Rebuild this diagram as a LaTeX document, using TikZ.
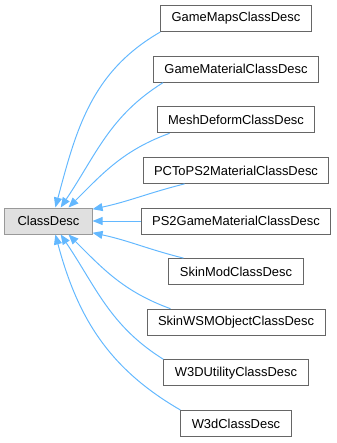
\documentclass[tikz,border=0pt]{standalone}
\usepackage{fontspec}
\setmainfont{Liberation Sans}
\usepackage{tikz}
\usetikzlibrary{arrows.meta,calc}

\definecolor{edgeblue}{HTML}{63B8FF}
\definecolor{boxgray}{HTML}{666666}
\definecolor{basegray}{HTML}{999999}
\definecolor{basefill}{HTML}{E0E0E0}

\begin{document}
\begin{tikzpicture}[x=0.025cm, y=0.025cm,
  cls/.style={draw=boxgray, line width=0.7pt, fill=white, minimum height=0.65cm,
              inner xsep=0.275cm, inner ysep=0pt, font=\fontsize{9.2}{11}\selectfont},
  base/.style={cls, draw=basegray, fill=basefill, minimum width=2.18cm},
  inh/.style={-{Triangle[length=0.25cm, width=0.2cm]}, draw=edgeblue, line width=0.7pt}
]
  \useasboundingbox (0,0) rectangle (337,443);

  \node[base] (cd)      at ( 48.5, 222.0) {ClassDesc};

  \node[cls]  (gmaps)   at (236, 424.4) {GameMapsClassDesc};
  \node[cls]  (gmat)    at (236, 373.8) {GameMaterialClassDesc};
  \node[cls]  (mesh)    at (236, 323.2) {MeshDeformClassDesc};
  \node[cls]  (pcps2)   at (236, 272.6) {PCToPS2MaterialClassDesc};
  \node[cls]  (ps2gmat) at (236, 222.0) {PS2GameMaterialClassDesc};
  \node[cls]  (skinmod) at (236, 171.4) {SkinModClassDesc};
  \node[cls]  (skinwsm) at (236, 120.8) {SkinWSMObjectClassDesc};
  \node[cls]  (w3dutil) at (236,  70.2) {W3DUtilityClassDesc};
  \node[cls]  (w3d)     at (236,  19.6) {W3dClassDesc};

  % derived classes point back to the base
  \draw[inh] (gmaps.south west)                 to[out=210, in=75]  (cd.63);
  \draw[inh] ($(gmat.south west)+(10,0)$)       to[out=212, in=56]  (cd.48);
  \draw[inh] ($(mesh.south west)+(13,0)$)       to[out=200, in=45]  (cd.34);
  \draw[inh] ($(pcps2.south west)+(42,0)$)      to[out=194, in=12]  (cd.15);
  \draw[inh] (ps2gmat.west)                     --                  (cd.east);
  \draw[inh] ($(skinmod.north west)+(15,0)$)    to[out=166, in=-12] (cd.-15);
  \draw[inh] ($(skinwsm.north west)+(24,0)$)    to[out=160, in=-45] (cd.-34);
  \draw[inh] (w3dutil.north west)               to[out=148, in=-56] (cd.-48);
  \draw[inh] (w3d.north west)                   to[out=150, in=-75] (cd.-63);
\end{tikzpicture}
\end{document}
